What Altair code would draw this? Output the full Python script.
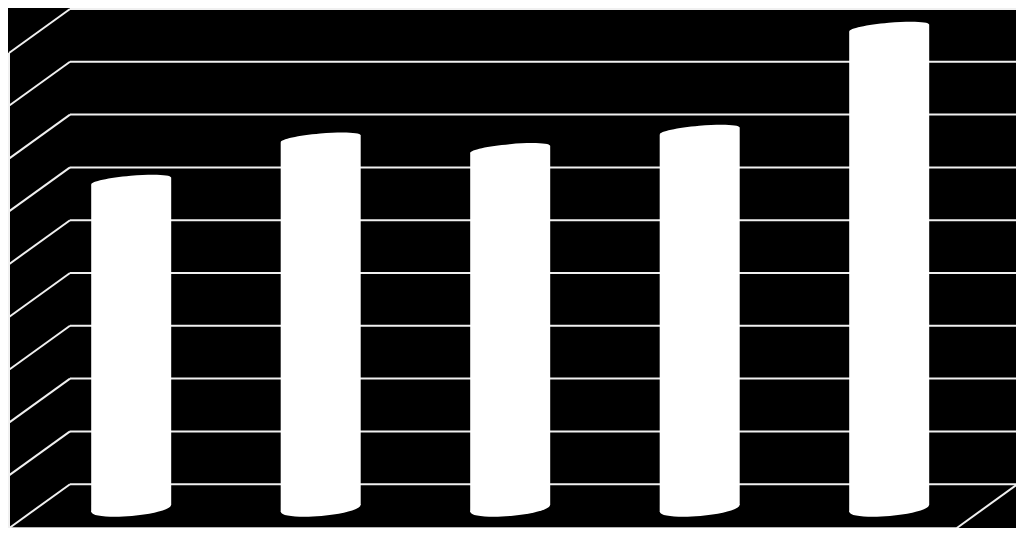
import math
import altair as alt
import pandas as pd

# ---- data (no labels are shown in the reference) ----
categories = ["1", "2", "3", "4", "5"]
values = [6.2, 7.0, 6.8, 7.15, 9.1]
grid_levels = [0, 1, 2, 3, 4, 5, 6, 7, 8, 9]

# ---- 3-D look (oblique projection) style constants ----
W, H = 1008, 520
PX_X = 189.5           # pixels per category slot
PX_Y = 52.8            # pixels per value unit
LEFT_PX = 62           # back wall left edge, pixels from chart left
TOP_PX = 1             # top gridline, pixels from chart top
DEPTH_X = -61 / PX_X   # front edge shift, category units
DEPTH_Y = -44 / PX_Y   # front edge shift, value units
BAR_DEPTH = 0.55       # position of the cylinders between back and front
BAR_HALF = 40 / PX_X   # half cylinder width
TILT_DEG = 5
TOP_RATIO = 0.13
BOT_RATIO = 0.19
LINE = "#f0f0f0"

x_domain = [-0.5 - LEFT_PX / PX_X, -0.5 + (W - LEFT_PX) / PX_X]
y_top = grid_levels[-1]
y_domain = [y_top - (H - TOP_PX) / PX_Y, y_top + TOP_PX / PX_Y]
TILT = 40 * math.tan(math.radians(TILT_DEG)) / PX_Y

xs = alt.Scale(domain=x_domain, nice=False, zero=False)
ys = alt.Scale(domain=y_domain, nice=False, zero=False)

x_lo = -0.5 + DEPTH_X
x_hi = len(categories) - 0.5

# ---- walls and floor ----
seg = []
for g in grid_levels:
    seg.append(dict(x=-0.5, y=g, x2=x_hi, y2=g))
    seg.append(dict(x=-0.5, y=g, x2=-0.5 + DEPTH_X, y2=g + DEPTH_Y))
seg.append(dict(x=x_lo, y=DEPTH_Y, x2=x_lo, y2=y_top + DEPTH_Y))
seg.append(dict(x=x_lo, y=DEPTH_Y, x2=x_hi + DEPTH_X, y2=DEPTH_Y))
seg.append(dict(x=x_hi, y=0, x2=x_hi + DEPTH_X, y2=DEPTH_Y))
seg_df = pd.DataFrame(seg)

# ---- cylinders ----
body, tops, bots = [], [], []
for i, (c, v) in enumerate(zip(categories, values)):
    xc = i + BAR_DEPTH * DEPTH_X
    base = BAR_DEPTH * DEPTH_Y
    top = v + BAR_DEPTH * DEPTH_Y
    body.append(dict(bar=c, x=xc - BAR_HALF, y=top - TILT, y2=base - TILT))
    body.append(dict(bar=c, x=xc + BAR_HALF, y=top + TILT, y2=base + TILT))
    tops.append(dict(bar=c, x=xc, y=top))
    bots.append(dict(bar=c, x=xc, y=base))
body_df = pd.DataFrame(body)
tops_df = pd.DataFrame(tops)
bots_df = pd.DataFrame(bots)

ell_size = (2 * BAR_HALF * PX_X) ** 2


def ellipse(r):
    return f"M -1 0 A 1 {r} 0 1 1 1 0 A 1 {r} 0 1 1 -1 0 Z"


rules = alt.Chart(seg_df).mark_rule(color=LINE, strokeWidth=2).encode(
    x=alt.X("x:Q", scale=xs, axis=None),
    x2="x2:Q",
    y=alt.Y("y:Q", scale=ys, axis=None),
    y2="y2:Q",
)

bodies = alt.Chart(body_df).mark_area(color="white", opacity=1).encode(
    x=alt.X("x:Q", scale=xs, axis=None),
    y=alt.Y("y:Q", scale=ys, axis=None),
    y2="y2:Q",
    detail="bar:N",
)


def caps(df, r):
    return alt.Chart(df).mark_point(
        shape=ellipse(r), filled=True, size=ell_size, angle=360 - TILT_DEG,
        color="white", opacity=1, strokeWidth=0,
    ).encode(
        x=alt.X("x:Q", scale=xs, axis=None),
        y=alt.Y("y:Q", scale=ys, axis=None),
    )


chart = alt.layer(rules, bodies, caps(tops_df, TOP_RATIO), caps(bots_df, BOT_RATIO)).properties(
    width=W, height=H, background="black", padding=0,
    autosize=alt.AutoSizeParams(type="none"),
).configure_view(stroke=None)

chart.save("out.html", embed_options={"renderer": "svg", "actions": False})
